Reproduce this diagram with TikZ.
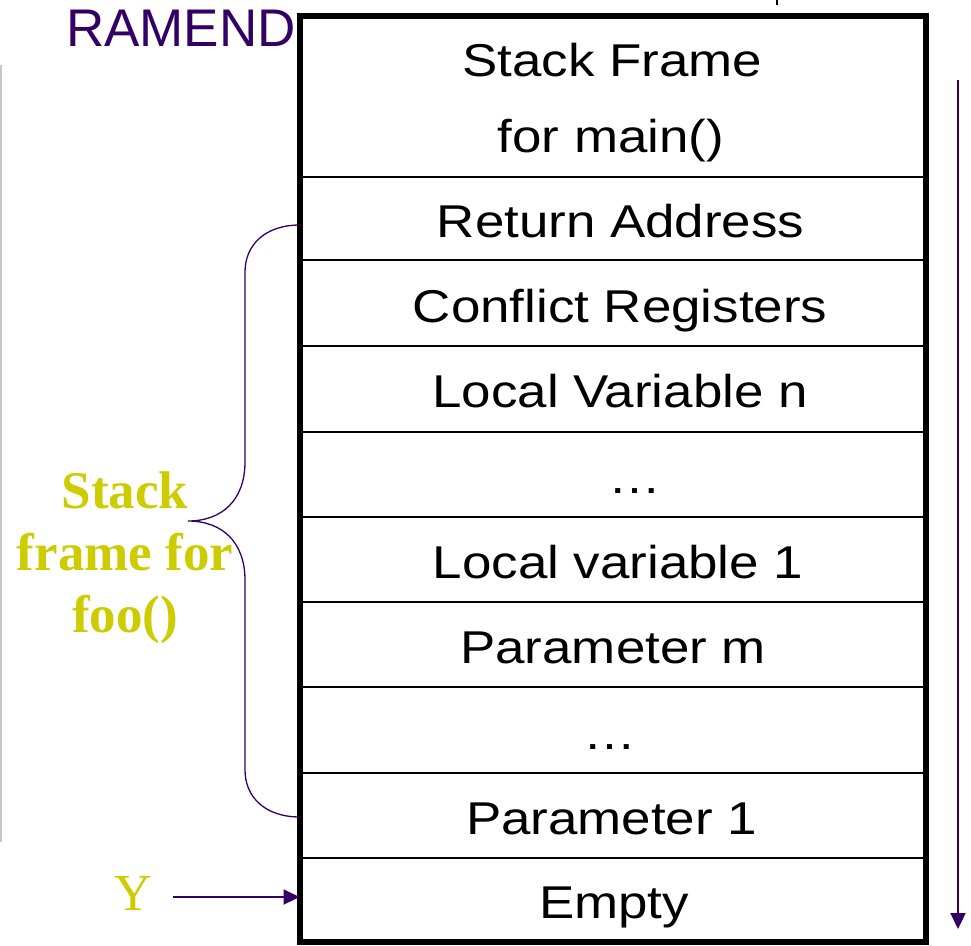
\documentclass[tikz,border=0pt]{standalone}
\usepackage{fontspec}
\setmainfont{Liberation Sans}
\newfontfamily\boxfont[FakeStretch=1.15]{Liberation Sans}
\newfontfamily\seriffont{Liberation Serif}
\usetikzlibrary{arrows.meta}
\definecolor{ramp}{HTML}{330066}
\definecolor{ylw}{HTML}{CCCC00}
\begin{document}
\begin{tikzpicture}[x=1pt,y=-1pt,
  cell/.style={draw=black,line width=2pt,rectangle,inner sep=0pt,minimum width=624.2pt},
  celltext/.style={font=\boxfont\fontsize{46}{55}\selectfont,anchor=base,inner sep=0pt},
  parrow/.style={draw=ramp,line width=2.2pt,-{Triangle[width=15pt,length=16pt]}},
  bracestyle/.style={draw=ramp,line width=1.3pt}]
\useasboundingbox (0,0) rectangle (971,945);
% cells
\node[cell,minimum height=160.5pt] (c1) at (612.6,96.75) {};
\node[cell,minimum height=83pt] (c2) at (612.6,218.5) {};
\node[cell,minimum height=86pt] (c3) at (612.6,303) {};
\node[cell,minimum height=85.5pt] (c4) at (612.6,388.75) {};
\node[cell,minimum height=85.5pt] (c5) at (612.6,474.25) {};
\node[cell,minimum height=85pt] (c6) at (612.6,559.5) {};
\node[cell,minimum height=85pt] (c7) at (612.6,644.5) {};
\node[cell,minimum height=86pt] (c8) at (612.6,730) {};
\node[cell,minimum height=85pt] (c9) at (612.6,815.5) {};
\node[cell,minimum height=83pt] (c10) at (612.6,899.5) {};
\draw[line width=6pt] (c1.north west) rectangle (c10.south east);
% texts
\node[celltext] (t1a) at (612.5,76.7) {Stack Frame};
\node[celltext] (t1b) at (611,152.5) {for main()};
\node[celltext] (t2) at ([xshift=8pt,yshift=-19pt]c2.center) {Return Address};
\node[celltext] (t3) at ([xshift=7.5pt,yshift=-19pt]c3.center) {Conflict Registers};
\node[celltext] (t4) at ([xshift=7.5pt,yshift=-19pt]c4.center) {Local Variable n};
\node[celltext] (t5) at ([xshift=22pt,yshift=-19pt]c5.center) {…};
\node[celltext] (t6) at ([xshift=5.5pt,yshift=-19pt]c6.center) {Local variable 1};
\node[celltext] (t7) at ([xshift=0.5pt,yshift=-19pt]c7.center) {Parameter m};
\node[celltext] (t8) at ([xshift=-2.5pt,yshift=-19pt]c8.center) {…};
\node[celltext] (t9) at ([xshift=-1pt,yshift=-19pt]c9.center) {Parameter 1};
\node[celltext] (t10) at ([xshift=1.5pt,yshift=-19pt]c10.center) {Empty};
% RAMEND
\node[anchor=base west,inner sep=0pt,text=ramp,font=\fontsize{53}{60}\selectfont] (ramend) at (66,46.7) {RAMEND};
% brace
\coordinate (bt) at (300,225);
\coordinate (bb) at (300,817);
\coordinate (tip) at (188,521);
\draw[bracestyle] (bt) .. controls (265,225) and (245,245) .. (245,272) -- (245,462)
  .. controls (245,500) and (222,521) .. (tip)
  .. controls (222,521) and (245,542) .. (245,580) -- (245,770)
  .. controls (245,797) and (265,817) .. (bb);
\node[anchor=base,inner sep=0pt,text=ylw,align=center,font=\seriffont\bfseries\fontsize{53}{62}\selectfont] (lbl1) at (125,508) {Stack};
\node[anchor=base,inner sep=0pt,text=ylw,font=\seriffont\bfseries\fontsize{53}{62}\selectfont] (lbl2) at (125,570) {frame for};
\node[anchor=base,inner sep=0pt,text=ylw,font=\seriffont\bfseries\fontsize{53}{62}\selectfont] (lbl3) at (125,632) {foo()};
% Y pointer
\node[anchor=base,inner sep=0pt,text=ylw,font=\seriffont\fontsize{52}{60}\selectfont] (ylab) at (133,910) {Y};
\coordinate (ystart) at (173,897);
\draw[parrow] (ystart) -- (c10.west |- ystart);
% right arrow
\coordinate (rtop) at (958,80);
\coordinate (rbot) at (958,929);
\draw[parrow] (rtop) -- (rbot);
% left gray line and top tick
\draw[line width=1.5pt,black!22] (1,65) -- (1,842);
\draw[line width=1.5pt,black] (777,0) -- (777,5);
\end{tikzpicture}
\end{document}
